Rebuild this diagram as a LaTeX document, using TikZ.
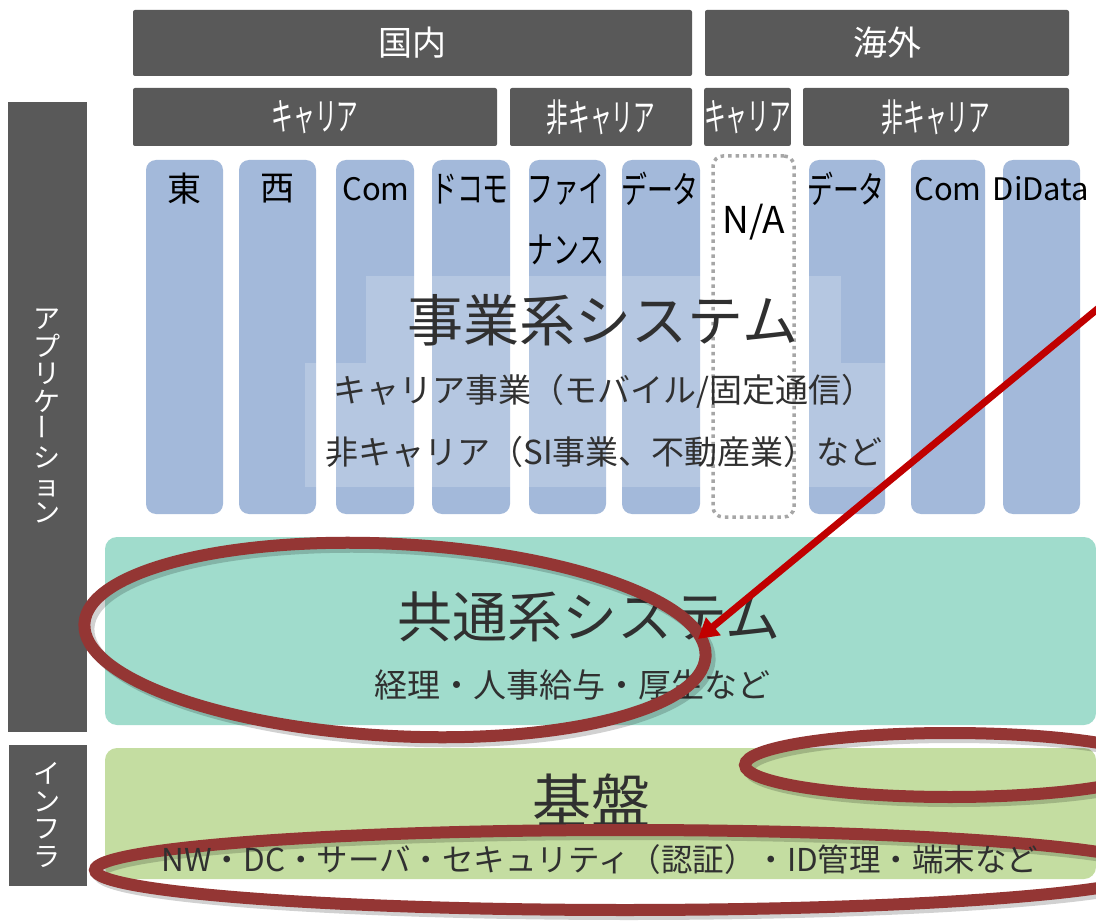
\documentclass[tikz,border=0pt]{standalone}
\usepackage{fontspec}
\setmainfont{Noto Sans CJK JP}
\usetikzlibrary{arrows.meta}
\definecolor{hdrgray}{HTML}{595959}
\definecolor{colblue}{HTML}{A3B9DA}
\definecolor{tealbox}{HTML}{A0DCCC}
\definecolor{greenbox}{HTML}{C4DDA1}
\definecolor{ringred}{HTML}{943634}
\definecolor{arrred}{HTML}{C00000}
\definecolor{bodytext}{HTML}{303030}
\definecolor{dotgray}{HTML}{A6A6A6}
\newcommand{\nar}[1]{\scalebox{0.7}[1]{#1}}
\newcommand{\hnar}[1]{\scalebox{0.57}[1]{#1}}
\newcommand{\fs}[1]{\fontsize{#1}{#1}\selectfont}
\begin{document}
\begin{tikzpicture}[x=1pt,y=-1pt,
  hdrbox/.style={fill=hdrgray, draw=none, rounded corners=2pt, text=white, inner sep=0pt, font=\fs{34}},
  hdrkana/.style={hdrbox, font=\fs{38}},
  sidebox/.style={fill=hdrgray, draw=none, text=white, inner sep=0pt},
  colbox/.style={fill=colblue, draw=none, rounded corners=10pt, minimum width=77pt, minimum height=354pt, inner sep=0pt},
  collabel/.style={font=\fs{34}, text=black, inner sep=0pt},
  kanalabel/.style={font=\fs{37}, text=black, inner sep=0pt},
  latlabel/.style={font=\fs{31}, text=black, inner sep=0pt},
  overlay/.style={fill=white, fill opacity=0.2, draw=none, inner sep=0pt},
  bigtitle/.style={font=\fs{55}, text=bodytext, inner sep=0pt},
  subtitle/.style={font=\fs{33}, text=bodytext, inner sep=0pt},
  ring/.style={draw=ringred, line width=12pt},
  ringshadow/.style={draw=black, draw opacity=0.18, line width=12pt},
  redarrow/.style={draw=arrred, line width=7pt, -{Triangle[length=20pt,width=22pt]}}
]
\clip (0,0) rectangle (1096,923);
\fill[white] (0,0) rectangle (1096,923);

% top headers
\node[hdrbox, minimum width=559pt, minimum height=66pt] (kokunai) at (412.5,43) {国内};
\node[hdrbox, minimum width=364pt, minimum height=66pt] (kaigai) at (887,43) {海外};
\node[hdrkana, minimum width=364pt, minimum height=58pt] (dcar) at (315,117) {\hnar{キャリア}};
\node[hdrkana, minimum width=182pt, minimum height=58pt] (dnon) at (601,117) {\hnar{非キャリア}};
\node[hdrkana, minimum width=85pt, minimum height=58pt] (ocar) at (747.5,117) {\hnar{キャリア}};
\node[hdrkana, minimum width=266pt, minimum height=58pt] (onon) at (936,117) {\hnar{非キャリア}};

% side bars
\node[sidebox, minimum width=79pt, minimum height=630pt] (appbar) at (47.5,417) {};
\node[sidebox, minimum width=78pt, minimum height=141pt] (infbar) at (48,815.5) {};
\node[text=white, inner sep=0pt, align=center, font=\fontsize{27}{27.5}\selectfont] (applbl) at (47,416)
  {ア\\プ\\リ\\ケ\\\rotatebox{90}{ー}\\シ\\ョ\\ン};
\node[text=white, inner sep=0pt, align=center, font=\fontsize{27}{27.5}\selectfont] (inflbl) at (47,815)
  {イ\\ン\\フ\\ラ};

% columns
\node[colbox] (c1) at (184.5,337) {};
\node[colbox] (c2) at (277.5,337) {};
\node[colbox, minimum width=78pt] (c3) at (375,337) {};
\node[colbox, minimum width=78pt] (c4) at (471,337) {};
\node[colbox] (c5) at (567.5,337) {};
\node[colbox, minimum width=78pt] (c6) at (661,337) {};
\node[colbox, minimum width=76pt] (c8) at (847,337) {};
\node[colbox, minimum width=74pt] (c9) at (948,337) {};
\node[colbox] (c10) at (1041.5,337) {};

% translucent panel behind the business-system text
\node[overlay, minimum width=475pt, minimum height=87pt] (ovtop) at (603.5,319.5) {};
\node[overlay, minimum width=581pt, minimum height=124pt] (ovbot) at (595.5,425) {};

% N/A dotted column
\node[draw=dotgray, line width=3.5pt, dash pattern=on 3.5pt off 4pt, rounded corners=10pt,
      minimum width=81pt, minimum height=361pt, inner sep=0pt] (c7) at (753.5,336.5) {};

% column labels
\node[collabel] (l1) at (184,189) {東};
\node[collabel] (l2) at (277,189) {西};
\node[latlabel] (l3) at (376,189) {Com};
\node[kanalabel] (l4) at (470,189) {\nar{ドコモ}};
\node[kanalabel] (l5a) at (566,189) {\nar{ファイ}};
\node[kanalabel] (l5b) at (566,250) {\nar{ナンス}};
\node[kanalabel] (l6) at (660,189) {\nar{データ}};
\node[latlabel, font=\fs{37}] (l7) at (754,222) {N/A};
\node[kanalabel] (l8) at (846,189) {\nar{データ}};
\node[latlabel] (l9) at (948,189) {Com};
\node[latlabel] (l10) at (1041,189) {DiData};

% business system texts
\node[bigtitle, font=\fs{56}] (jigyo) at (603,320) {事業系システム};
\node[subtitle] (jigyo1) at (604,391) {キャリア事業（モバイル/固定通信）};
\node[subtitle] (jigyo2) at (604,452) {非キャリア（SI事業、不動産業）など};

% common systems
\node[fill=tealbox, rounded corners=12pt, minimum width=991pt, minimum height=188pt, inner sep=0pt] (kyotsu) at (600.5,631) {};
\node[bigtitle] (kyotsut) at (589,617) {共通系システム};
\node[subtitle] (kyotsus) at (572,685) {経理・人事給与・厚生など};

% infrastructure
\node[fill=greenbox, rounded corners=12pt, minimum width=991pt, minimum height=131pt, inner sep=0pt] (kiban) at (600.5,813.5) {};
\node[bigtitle, font=\fs{59}] (kibant) at (591,800) {基盤};

% highlight rings
\draw[ringshadow, rotate around={-3:(399,644)}] (399,644) ellipse [x radius=311pt, y radius=96pt];
\draw[ring, rotate around={-3:(395,640)}] (395,640) ellipse [x radius=311pt, y radius=96pt];
\draw[ringshadow] (954,769) ellipse [x radius=205pt, y radius=32pt];
\draw[ring] (950,765) ellipse [x radius=205pt, y radius=32pt];
\draw[ringshadow] (629,874) ellipse [x radius=530pt, y radius=40pt];
\draw[ring] (625,870) ellipse [x radius=530pt, y radius=40pt];

% infrastructure detail line (drawn above the ring)
\node[subtitle, font=\fs{31.5}] (kibans) at (600,860) {NW・DC・サーバ・セキュリティ（認証）・ID管理・端末など};

% arrow
\coordinate (arrstart) at (1118,292);
\coordinate (arrtip) at (698,639);
\draw[redarrow] (arrstart) -- (arrtip);
\end{tikzpicture}
\end{document}
